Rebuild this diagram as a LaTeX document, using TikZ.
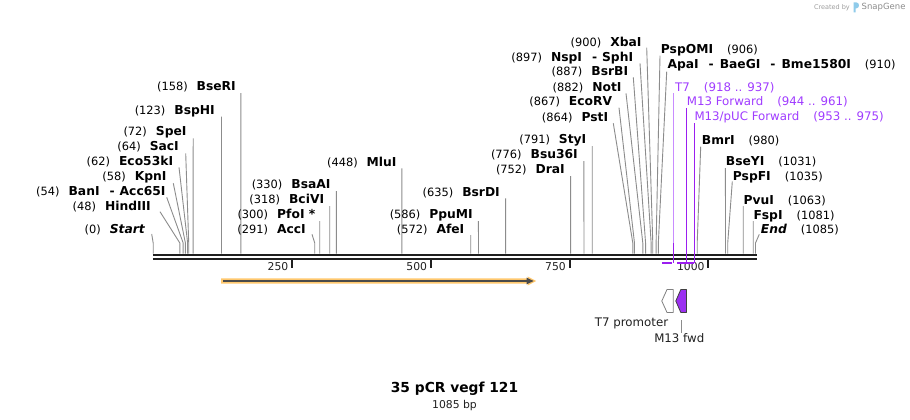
\documentclass[tikz,border=0pt]{standalone}
\usepackage{fontspec}
\setmainfont{DejaVu Sans}
\definecolor{cutgray}{HTML}{8C8C8C}
\definecolor{seqblack}{HTML}{1F1F1F}
\definecolor{primtext}{HTML}{A03CFF}
\definecolor{primline}{HTML}{9B1EF0}
\definecolor{primlight}{HTML}{C88CFF}
\definecolor{orangeband}{HTML}{FFC86E}
\definecolor{featdark}{HTML}{4A4A4A}
\definecolor{mpurple}{HTML}{9B30F0}
\definecolor{logoblue}{HTML}{8FCBEA}
\newcommand\bname[1]{{\fontsize{12.3}{14}\selectfont\bfseries #1}}
\tikzset{
  lab/.style={inner sep=0pt, text height=8pt, text depth=0pt, font=\fontsize{11.4}{13}\selectfont, text=black},
  plab/.style={inner sep=0pt, text height=8pt, text depth=0pt, font=\fontsize{11.8}{13}\selectfont, text=primtext},
  cut/.style={draw=cutgray, line width=0.9pt},
  pline/.style={draw=primline, line width=1.4pt},
  pbar/.style={draw=primline, line width=2.3pt},
  seqline/.style={draw=seqblack, line width=2.8pt},
  tick/.style={draw=seqblack, line width=2pt},
  ticklab/.style={inner sep=0pt, text height=7.5pt, text depth=0pt, font=\fontsize{10.8}{12}\selectfont, text=black!87},
}
\newcommand\cutL[7]{%
  \pgfmathsetmacro\sx{153.2+0.5551*#2}
  \node[lab,anchor=east] (#1) at (#4,#5) {(#2)\hspace{9pt}\bname{#3}};
  \coordinate (#1top) at (#6,#7);
  \coordinate (#1bend) at (\sx,243);
  \coordinate (#1site) at (\sx,253.6);
  \draw[cut] (#1top) -- (#1bend) -- (#1site);
}
\newcommand\cutR[8]{%
  \pgfmathsetmacro\sx{153.2+0.5551*#2}
  \node[lab,anchor=west] (#1) at (#5,#6) {\bname{#3}\hspace{14pt}(#4)};
  \coordinate (#1top) at (#7,#8);
  \coordinate (#1bend) at (\sx,243);
  \coordinate (#1site) at (\sx,253.6);
  \draw[cut] (#1top) -- (#1bend) -- (#1site);
}
\begin{document}
\begin{tikzpicture}[x=1pt,y=-1pt]
\useasboundingbox (0,0) rectangle (910,420);
\fill[white] (0,0) rectangle (910,420);

% watermark
\node[inner sep=0pt, font=\fontsize{6.5}{8}\selectfont, text=black!38, anchor=east] (wm1) at (850,7.5) {Created by};
\fill[logoblue] (853.5,2.5) -- (856.5,2.5) .. controls (859.8,2.5) and (859.8,8.3) .. (856.5,8.3) -- (855.6,8.3) -- (855.6,12.5) -- (853.5,12.5) -- cycle;
\node[inner sep=0pt, font=\fontsize{8.5}{10}\selectfont, text=black!45, anchor=west] (wm2) at (861.5,7.5) {SnapGene};

% sequence
\coordinate (seqL1) at (152.8,255); \coordinate (seqR1) at (756.6,255);
\coordinate (seqL2) at (152.8,258.9); \coordinate (seqR2) at (756.6,258.9);
\draw[seqline] (seqL1) -- (seqR1);
\draw[seqline] (seqL2) -- (seqR2);

% ticks
\foreach \bp in {250,500,750,1000}{
  \pgfmathsetmacro\tx{153.2+0.5551*\bp}
  \coordinate (t\bp a) at (\tx,260);
  \coordinate (t\bp b) at (\tx,268);
  \draw[tick] (t\bp a) -- (t\bp b);
  \node[ticklab,anchor=east] (tl\bp) at (\tx-3.5,267) {\bp};
}

% left-labelled cut sites
\cutL{start}{0}{\itshape Start}{145}{229.5}{151.7}{234}
\cutL{hind}{48}{HindIII}{151}{206.5}{160}{211.7}
\cutL{ban}{54}{BanI\hspace{10pt}-\hspace{5pt}Acc65I}{165.7}{191.5}{166.7}{197.3}
\cutL{kpn}{58}{KpnI}{166.7}{176.7}{173.3}{183.3}
\cutL{ecof}{62}{Eco53kI}{173.3}{161}{179}{167.3}
\cutL{sac}{64}{SacI}{179}{146.5}{185.7}{153.3}
\cutL{spe}{72}{SpeI}{186.7}{131.5}{193.2}{138.3}
\cutL{bsph}{123}{BspHI}{215}{110}{221.5}{116.7}
\cutL{bser}{158}{BseRI}{236}{86.5}{240.9}{93}
\cutL{acc}{291}{AccI}{306}{229.5}{312}{234.3}
\cutL{pfo}{300}{PfoI *}{315.5}{214.5}{319.7}{221}
\cutL{bci}{318}{BciVI}{324.3}{199.5}{329.7}{206}
\cutL{bsaa}{330}{BsaAI}{330.7}{184.5}{336.4}{191}
\cutL{mlu}{448}{MluI}{396.7}{162}{401.8}{168.3}
\cutL{afe}{572}{AfeI}{464.5}{229.5}{470.7}{235}
\cutL{ppu}{586}{PpuMI}{473}{214.5}{478.4}{221}
\cutL{bsrd}{635}{BsrDI}{500}{192}{505.6}{198.3}
\cutL{dra}{752}{DraI}{565}{169.5}{570.6}{176}
\cutL{bsu}{776}{Bsu36I}{578}{154.5}{583.9}{161}
\cutL{sty}{791}{StyI}{586.5}{139.5}{592.2}{146}
\cutL{pst}{864}{PstI}{608.3}{117}{613.3}{123.3}
\cutL{ecorv}{867}{EcoRV}{612.3}{101.7}{619}{107.7}
\cutL{notI}{882}{NotI}{621.7}{87.3}{626}{93.3}
\cutL{bsrb}{887}{BsrBI}{628.3}{72}{633.3}{77.3}
\cutL{nsp}{897}{NspI\hspace{10pt}-\hspace{5pt}SphI}{633.3}{57.3}{640}{63.3}
\cutL{xba}{900}{XbaI}{641.7}{42.3}{646.7}{47.7}

% right-labelled cut sites
\cutR{pspo}{906}{PspOMI}{906}{660.7}{50}{660}{55.7}
\cutR{apa}{910}{ApaI\hspace{10pt}-\hspace{6pt}BaeGI\hspace{10pt}-\hspace{6pt}Bme1580I}{910}{667.3}{65}{666.7}{71.7}
\cutR{bmr}{980}{BmrI}{980}{701.7}{140}{700.7}{146.7}
\cutR{bsey}{1031}{BseYI}{1031}{725.7}{161.7}{725.4}{168}
\cutR{pspf}{1035}{PspFI}{1035}{732.7}{176.7}{732.3}{181.5}
\cutR{pvu}{1063}{PvuI}{1063}{743.3}{200}{743.2}{206}
\cutR{fsp}{1081}{FspI}{1081}{753.3}{215}{753.2}{221}
\cutR{endn}{1085}{\itshape End}{1085}{760.7}{229.3}{759.3}{234.3}

% primers
\node[plab,anchor=west] (t7) at (675,87.3) {T7\hspace{14pt}(918 .. 937)};
\node[plab,anchor=west] (m13f) at (686.7,101.7) {M13 Forward\hspace{14pt}(944 .. 961)};
\node[plab,anchor=west] (m13p) at (694.3,116.7) {M13/pUC Forward\hspace{14pt}(953 .. 975)};
\coordinate (t7top) at (673.3,93); \coordinate (t7mid) at (673.3,243); \coordinate (t7bot) at (673.3,263.3);
\coordinate (m13ftop) at (686.7,108.3); \coordinate (m13fbot) at (686.7,263.3);
\coordinate (m13ptop) at (694.3,123.3); \coordinate (m13pbot) at (694.3,263.3);
\draw[pline, draw=primlight] (t7top) -- (t7mid);
\draw[pline] (t7mid) -- (t7bot);
\draw[pline] (m13ftop) -- (m13fbot);
\draw[pline] (m13ptop) -- (m13pbot);
\coordinate (t7b1) at (662.3,263.3); \coordinate (t7b2) at (672.2,263.3);
\coordinate (m13fb1) at (677.3,263.3);
\coordinate (m13pb1) at (682.1,263.3);
\draw[pbar] (t7b1) -- (t7b2);
\draw[pbar] (m13fb1) -- (m13fbot);
\draw[pbar] (m13pb1) -- (m13pbot);

% ORF feature arrow
\fill[orangeband] (221,278.3) -- (527.5,278.3) -- (527.5,276.4) -- (536.2,281) -- (527.5,285.6) -- (527.5,283.7) -- (221,283.7) -- cycle;
\coordinate (orfA) at (223,281); \coordinate (orfB) at (528,281);
\draw[featdark, line width=1.5pt] (orfA) -- (orfB);
\fill[featdark] (526.5,277.6) -- (533.6,281) -- (526.5,284.4) -- cycle;

% T7 promoter (reverse)
\draw[draw=black!50, fill=white, line width=0.8pt, line join=round]
  (661.8,301) -- (667,289.5) -- (673.2,289.5) -- (673.2,312.5) -- (667,312.5) -- cycle;
\node[inner sep=0pt, text height=8pt, text depth=0pt, font=\fontsize{11.8}{13}\selectfont, text=black!87] (t7lab) at (631.5,322.7) {T7 promoter};

% M13 fwd (reverse)
\draw[draw=black!75, fill=mpurple, line width=0.8pt, line join=round]
  (675.8,301) -- (680.8,289.5) -- (686.4,289.5) -- (686.4,312.5) -- (680.8,312.5) -- cycle;
\coordinate (m13arr) at (681.3,320);
\node[inner sep=0pt, text height=8pt, text depth=0pt, font=\fontsize{11.8}{13}\selectfont, text=black!87] (m13lab) at (679.3,338.7) {M13 fwd};
\draw[cutgray, line width=0.8pt] (m13arr) -- ([yshift=2pt]m13lab.north -| m13arr);

% title
\node[inner sep=0pt, text height=9.5pt, text depth=0pt, font=\fontsize{13.8}{16}\selectfont\bfseries] (title) at (454.5,388) {35 pCR vegf 121};
\node[inner sep=0pt, text height=7.5pt, text depth=0pt, font=\fontsize{10.8}{12}\selectfont, text=black!87] (bp) at (454.5,404.5) {1085 bp};
\end{tikzpicture}
\end{document}
